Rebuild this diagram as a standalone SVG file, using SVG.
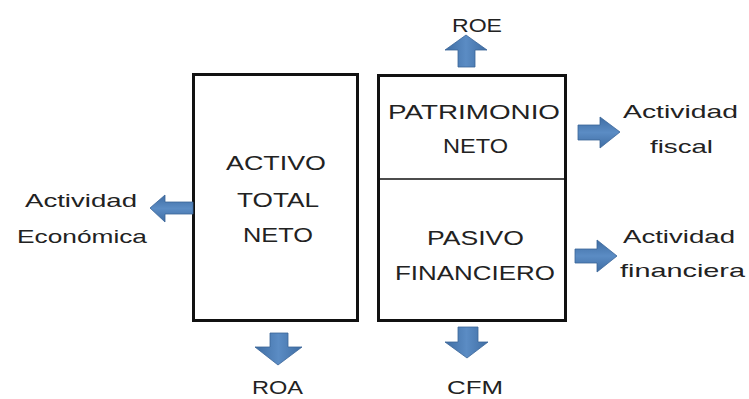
<svg xmlns="http://www.w3.org/2000/svg" width="749" height="399" viewBox="0 0 749 399">
<defs>
<linearGradient id="gv" x1="0" y1="0" x2="1" y2="0">
<stop offset="0" stop-color="#3f6da3"/><stop offset="0.5" stop-color="#5b8cc4"/><stop offset="1" stop-color="#3f6da3"/>
</linearGradient>
<linearGradient id="gh" x1="0" y1="0" x2="0" y2="1">
<stop offset="0" stop-color="#3f6da3"/><stop offset="0.5" stop-color="#5b8cc4"/><stop offset="1" stop-color="#3f6da3"/>
</linearGradient>
</defs>
<style>
.box{fill:#fff;stroke:#111;stroke-width:3}
.div{stroke:#111;stroke-width:1.5}
.t{font-family:"Liberation Sans",Arial,sans-serif;font-size:20px;fill:#222;text-anchor:start}
.l{font-family:"Liberation Sans",Arial,sans-serif;font-size:19px;fill:#222;text-anchor:start}
.av{fill:url(#gv);stroke:#3a6598;stroke-width:0.8}
.ah{fill:url(#gh);stroke:#3a6598;stroke-width:0.8}
</style>
<rect width="749" height="399" fill="#fff"/>
<g id="activo">
<rect class="box" x="193.5" y="74.5" width="164" height="246"/>
<text class="t" x="226" y="170" textLength="100" lengthAdjust="spacingAndGlyphs">ACTIVO</text>
<text class="t" x="237" y="207" textLength="82" lengthAdjust="spacingAndGlyphs">TOTAL</text>
<text class="t" x="243" y="242" textLength="70" lengthAdjust="spacingAndGlyphs">NETO</text>
</g>
<g id="pasivo">
<rect class="box" x="378.5" y="75.5" width="187" height="245"/>
<line class="div" x1="378" y1="179" x2="566" y2="179"/>
<text class="t" x="388" y="119" textLength="172" lengthAdjust="spacingAndGlyphs">PATRIMONIO</text>
<text class="t" x="443" y="153" textLength="65" lengthAdjust="spacingAndGlyphs">NETO</text>
<text class="t" x="427" y="245" textLength="97" lengthAdjust="spacingAndGlyphs">PASIVO</text>
<text class="t" x="395" y="280" textLength="160" lengthAdjust="spacingAndGlyphs">FINANCIERO</text>
</g>
<g id="roe"><text class="l" x="452" y="32" textLength="50" lengthAdjust="spacingAndGlyphs">ROE</text></g>
<g id="roa"><text class="l" x="252" y="394" textLength="51" lengthAdjust="spacingAndGlyphs">ROA</text></g>
<g id="cfm"><text class="l" x="447" y="394" textLength="56" lengthAdjust="spacingAndGlyphs">CFM</text></g>
<g id="economica">
<text class="l" x="25" y="207" textLength="112" lengthAdjust="spacingAndGlyphs">Actividad</text>
<text class="l" x="17" y="243" textLength="130" lengthAdjust="spacingAndGlyphs">Económica</text>
</g>
<g id="fiscal">
<text class="l" x="623" y="118" textLength="115" lengthAdjust="spacingAndGlyphs">Actividad</text>
<text class="l" x="650" y="153" textLength="63" lengthAdjust="spacingAndGlyphs">fiscal</text>
</g>
<g id="financiera">
<text class="l" x="623" y="243" textLength="112" lengthAdjust="spacingAndGlyphs">Actividad</text>
<text class="l" x="620" y="277" textLength="125" lengthAdjust="spacingAndGlyphs">financiera</text>
</g>
<g id="connectors">
<polygon class="av" points="466,35 487,50 475,50 475,67 458,67 458,50 445,50"/>
<polygon class="av" points="270,333 288,333 288,347 302,347 278,365 255,347 270,347"/>
<polygon class="av" points="458,327 478,327 478,342 488,342 467,358 445,342 458,342"/>
<polygon class="ah" points="150,208 165,195 165,202 193,202 193,214 165,214 165,222"/>
<polygon class="ah" points="578,125 600,125 600,117 620,132 600,148 600,140 578,140"/>
<polygon class="ah" points="575,249 597,249 597,240 617,256 597,272 597,263 575,263"/>
</g>
</svg>
